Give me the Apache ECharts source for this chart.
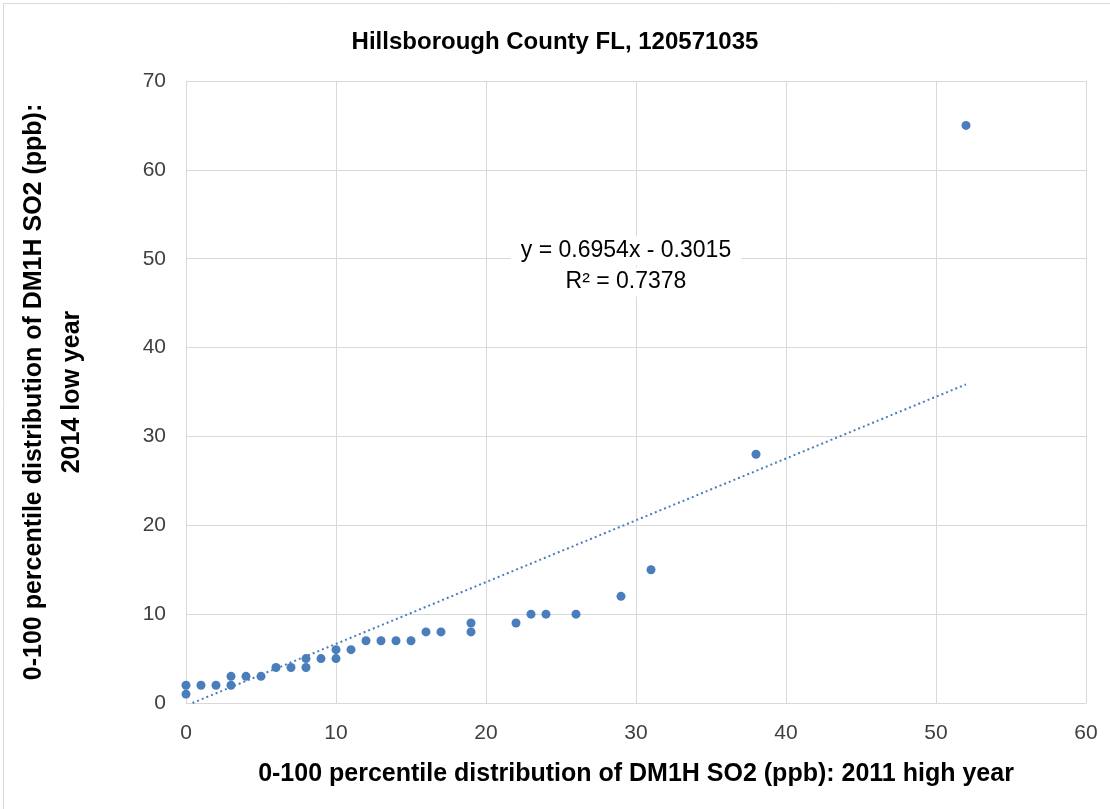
<!DOCTYPE html>
<html><head><meta charset="utf-8">
<script src="https://cdn.jsdelivr.net/npm/echarts@6/dist/echarts.min.js"></script>
<style>html,body{margin:0;padding:0;background:#fff}#c{width:1110px;height:809px}</style>
</head><body><div id="c"></div>
<script>
const xValues = [0,0,1,2,3,3,4,5,6,7,8,8,9,10,10,11,12,13,14,15,16,17,19,19,22,23,24,26,29,31,38,52];
const yValues = [1,2,2,2,2,3,3,3,4,4,4,5,5,5,6,6,7,7,7,7,8,8,8,9,9,10,10,10,12,15,28,65];
const slope = 0.6954, intercept = -0.3015, rSquared = 0.7378;
const xTicks = [0,10,20,30,40,50,60];
const yTicks = [0,10,20,30,40,50,60,70];
const titleText = 'Hillsborough County FL, 120571035';
const xTitle = '0-100 percentile distribution of DM1H SO2 (ppb): 2011 high year';
const yTitle = '0-100 percentile distribution of DM1H SO2 (ppb):\n2014 low year';

const pts = xValues.map((x,i)=>[x,yValues[i]]);
const xMaxData = Math.max(...xValues);
const xStart = Math.max(0, -intercept/slope);
const trend = [[xStart, slope*xStart+intercept],[xMaxData, slope*xMaxData+intercept]];
const font = '"Liberation Sans", "Noto Sans", sans-serif';

const chart = echarts.init(document.getElementById('c'));
chart.setOption({
  animation:false,
  title:{text:titleText,left:'center',top:25,textStyle:{fontFamily:font,fontSize:24,fontWeight:'bold',color:'#000'}},
  grid:{left:186,right:24,top:81,bottom:106,containLabel:false,outerBoundsMode:'none'},
  xAxis:{type:'value',min:xTicks[0],max:xTicks[xTicks.length-1],interval:xTicks[1]-xTicks[0],
    name:xTitle,nameLocation:'middle',nameGap:59,
    nameTextStyle:{fontFamily:font,fontSize:25,fontWeight:'bold',color:'#000'},
    axisLine:{show:true,lineStyle:{color:'#d9d9d9',width:1}},
    axisTick:{show:false},
    axisLabel:{fontFamily:font,fontSize:21,color:'#404040',margin:20},
    splitLine:{show:true,lineStyle:{color:'#d9d9d9',width:1}}},
  yAxis:{type:'value',min:yTicks[0],max:yTicks[yTicks.length-1],interval:yTicks[1]-yTicks[0],
    name:yTitle,nameLocation:'middle',nameGap:95,
    nameTextStyle:{fontFamily:font,fontSize:25,fontWeight:'bold',color:'#000',lineHeight:38},
    axisLine:{show:true,lineStyle:{color:'#d9d9d9',width:1}},
    axisTick:{show:false},
    axisLabel:{fontFamily:font,fontSize:21,color:'#404040',margin:20},
    splitLine:{show:true,lineStyle:{color:'#d9d9d9',width:1}}},
  series:[
    {type:'line',data:trend,showSymbol:false,symbol:'none',
      lineStyle:{color:'#4a7ebb',width:2,type:[2,3]},z:2},
    {type:'scatter',data:pts,symbolSize:9,itemStyle:{color:'#4a7ebb',opacity:1},z:3}
  ],
  graphic:[
    {type:'rect',left:1,top:1,shape:{width:1107,height:806},style:{fill:'none',stroke:'#d9d9d9',lineWidth:1},silent:true},
    {type:'text',z:10,style:{x:626,y:251,text:'y = '+slope.toFixed(4)+'x - '+Math.abs(intercept).toFixed(4),align:'center',verticalAlign:'middle',fontFamily:font,fontSize:23,fill:'#000',backgroundColor:'#fff',padding:[3,10]}},
    {type:'text',z:10,style:{x:626,y:282,text:'R² = '+rSquared.toFixed(4),align:'center',verticalAlign:'middle',fontFamily:font,fontSize:23,fill:'#000',backgroundColor:'#fff',padding:[3,10]}}
  ]
});
</script></body></html>
